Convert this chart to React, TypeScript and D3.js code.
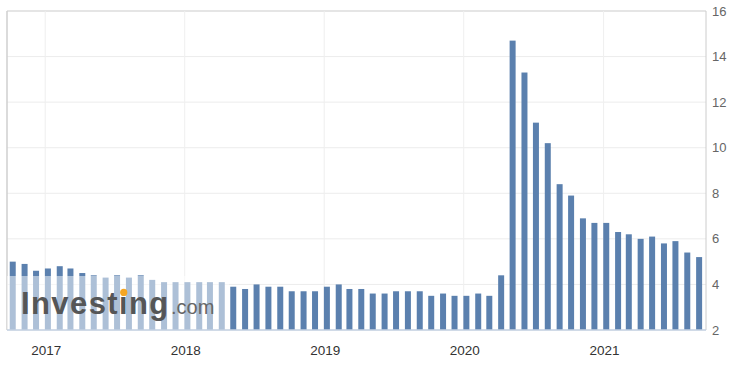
import React, { useEffect, useRef, useState } from 'react';
import * as d3 from 'd3';

// Release months (first Friday release of each month), Oct 2016 .. Sep 2021
const months: Date[] = d3.timeMonth.range(new Date(2016, 9, 1), new Date(2021, 9, 1));
const rates: number[] = [
  5.0, 4.9, 4.6, 4.7, 4.8, 4.7, 4.5, 4.4, 4.3, 4.4, 4.3, 4.4,
  4.2, 4.1, 4.1, 4.1, 4.1, 4.1, 4.1, 3.9, 3.8, 4.0, 3.9, 3.9,
  3.7, 3.7, 3.7, 3.9, 4.0, 3.8, 3.8, 3.6, 3.6, 3.7, 3.7, 3.7,
  3.5, 3.6, 3.5, 3.5, 3.6, 3.5, 4.4, 14.7, 13.3, 11.1, 10.2, 8.4,
  7.9, 6.9, 6.7, 6.7, 6.3, 6.2, 6.0, 6.1, 5.8, 5.9, 5.4, 5.2,
];
const yTicks: number[] = [2, 4, 6, 8, 10, 12, 14, 16];
const yearTicks: Date[] = [2017, 2018, 2019, 2020, 2021].map((y) => new Date(y, 0, 1));

const W = 745;
const H = 367;
const L = 7;
const R = 706;
const T = 11;
const B = 330;
const FONT = '"Liberation Sans", Arial, Helvetica, sans-serif';

export default function App() {
  const x = d3.scaleTime().domain([new Date(2016, 8, 23), new Date(2021, 8, 26)]).range([L, R]);
  const y = d3.scaleLinear().domain([2, 16]).range([B, T]);
  const barW = 6;
  const textRef = useRef<SVGTextElement | null>(null);
  const [dot, setDot] = useState<{ cx: number; cy: number } | null>(null);
  const wmBase = 313.5;
  const wmSize = 31;

  useEffect(() => {
    const el = textRef.current;
    if (el) {
      try {
        const ext = el.getExtentOfChar(6);
        setDot({ cx: ext.x + (ext.width - 1.5) / 2 + 0.5, cy: wmBase - wmSize * 0.68 });
      } catch (e) {
        /* ignore */
      }
    }
  }, []);

  const wmX1 = 7;
  const wmX2 = 229;
  const wmY1 = 276;

  return (
    <svg
      width={W}
      height={H}
      style={{ position: 'absolute', left: 0, top: 0, background: '#fff' }}
      fontFamily={FONT}
    >
      <rect x={0} y={0} width={W} height={H} fill="#fff" />
      {/* horizontal grid */}
      {yTicks.map((t) => (
        <line key={'h' + t} x1={L} x2={R} y1={y(t)} y2={y(t)} stroke={t === 16 ? '#dcdcdc' : '#ececec'} strokeWidth={t === 16 ? 1.5 : 1} />
      ))}
      {/* vertical grid */}
      {yearTicks.map((d) => (
        <line key={'v' + d.getFullYear()} x1={x(d)} x2={x(d)} y1={T} y2={B} stroke="#efefef" strokeWidth={1} />
      ))}
      {/* frame */}
      <line x1={L} x2={L} y1={T} y2={B} stroke="#cfcfcf" strokeWidth={1.5} />
      <line x1={R} x2={R} y1={T} y2={B} stroke="#cccccc" strokeWidth={1} />

      {/* bars */}
      {rates.map((v, i) => {
        const cx = x(d3.timeDay.offset(months[i], 7));
        return (
          <rect
            key={'b' + i}
            x={cx - barW / 2}
            y={y(v)}
            width={barW}
            height={B - y(v)}
            fill="#5b80ae"
          />
        );
      })}

      {/* watermark */}
      <rect x={wmX1} y={wmY1} width={wmX2 - wmX1} height={B - wmY1} fill="#ffffff" opacity={0.5} />
      <text ref={textRef} x={21} y={wmBase} fontSize={wmSize} fontWeight="bold" fill="#555657" letterSpacing={1.4}>
        Investing
      </text>
      {dot && <circle cx={dot.cx} cy={dot.cy} r={3.6} fill="#f5a623" />}
      <text x={171} y={wmBase} fontSize={20} fill="#666" letterSpacing={0}>
        .com
      </text>

      {/* x axis line */}
      <line x1={L} x2={R} y1={B} y2={B} stroke="#c3d1e2" strokeWidth={1.5} />

      {/* y labels */}
      {yTicks.map((t) => (
        <text key={'yl' + t} x={712} y={y(t)} dy="0.35em" fontSize={13} fill="#666">
          {t}
        </text>
      ))}
      {/* x labels */}
      {yearTicks.map((d) => (
        <text key={'xl' + d.getFullYear()} x={x(d) + 1} y={355} textAnchor="middle" fontSize={13.5} fill="#333">
          {d.getFullYear()}
        </text>
      ))}
    </svg>
  );
}
